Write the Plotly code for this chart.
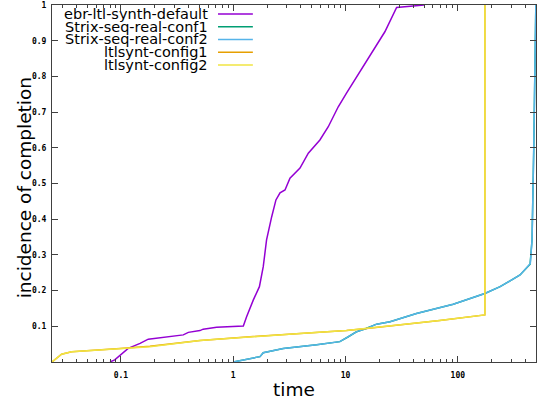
import plotly.graph_objects as go

# ---- data (time in seconds, incidence of completion) ----
ebr_t = [0.080, 0.088, 0.116, 0.148, 0.175, 0.255, 0.359, 0.398, 0.505, 0.54, 0.711, 1.23, 1.315, 1.51, 1.71, 1.85,
         1.98, 2.20, 2.40, 2.61, 2.89, 3.2, 3.93, 4.66, 5.91, 7.02, 8.61, 10.2, 12.6, 15.4, 17.7, 22.4, 28.5, 45.9, 50.0]
ebr_y = [0.0, 0.006, 0.038, 0.052, 0.064, 0.071, 0.076, 0.083, 0.088, 0.092, 0.097, 0.101, 0.127, 0.174, 0.211, 0.267,
         0.342, 0.407, 0.454, 0.474, 0.482, 0.515, 0.543, 0.585, 0.622, 0.659, 0.715, 0.753, 0.799, 0.841, 0.874, 0.925, 0.993, 1.0, 1.0]

strix1_t = [1.0, 1.32, 1.73, 1.85, 2.79, 5.53, 8.9, 10.5, 12.4, 15.2, 18.9, 24.9, 42.8, 91, 174, 238, 358, 440, 458, 474, 484, 491, 495]
strix1_y = [0.0, 0.008, 0.015, 0.026, 0.038, 0.048, 0.057, 0.070, 0.084, 0.094, 0.106, 0.113, 0.136, 0.162, 0.192, 0.211, 0.244, 0.274, 0.342, 0.594, 0.827, 0.93, 1.0]

strix2_t = [1.0, 1.32, 1.73, 1.85, 2.79, 5.53, 8.9, 10.6, 12.6, 15.4, 18.9, 24.9, 42.8, 91, 174, 238, 358, 442, 458, 474, 484, 491, 495]
strix2_y = [0.0, 0.008, 0.015, 0.026, 0.038, 0.048, 0.057, 0.071, 0.085, 0.094, 0.106, 0.113, 0.136, 0.162, 0.192, 0.211, 0.244, 0.276, 0.342, 0.594, 0.827, 0.93, 1.0]

ltl1_t = [0.0243, 0.0296, 0.0364, 0.061, 0.098, 0.181, 0.505, 1.41, 3.93, 10.2, 15.4, 30.4, 69, 174, 174]
ltl1_y = [0.0, 0.022, 0.029, 0.033, 0.038, 0.044, 0.060, 0.071, 0.080, 0.088, 0.094, 0.104, 0.116, 0.132, 1.0]

ltl2_t = [0.0243, 0.0296, 0.0364, 0.061, 0.098, 0.181, 0.505, 1.41, 3.93, 10.2, 15.4, 30.4, 69, 174, 174]
ltl2_y = [0.0, 0.022, 0.029, 0.034, 0.038, 0.043, 0.060, 0.071, 0.080, 0.088, 0.094, 0.104, 0.116, 0.132, 1.0]

series_names = ["ebr-ltl-synth-default", "Strix-seq-real-conf1", "Strix-seq-real-conf2", "ltlsynt-config1", "ltlsynt-config2"]
series_colors = ["#9400d3", "#009e73", "#56b4e9", "#e69f00", "#f0e442"]
series_t = [ebr_t, strix1_t, strix2_t, ltl1_t, ltl2_t]
series_y = [ebr_y, strix1_y, strix2_y, ltl1_y, ltl2_y]

x_tickvals = [0.1, 1, 10, 100]
x_ticktext = ["0.1", "1", "10", "100"]
y_tickvals = [0.1, 0.2, 0.3, 0.4, 0.5, 0.6, 0.7, 0.8, 0.9, 1]
y_ticktext = ["0.1", "0.2", "0.3", "0.4", "0.5", "0.6", "0.7", "0.8", "0.9", "1"]
x_title = "time"
y_title = "incidence of completion"

fig = go.Figure()
for name, color, t, y in zip(series_names, series_colors, series_t, series_y):
    fig.add_trace(go.Scatter(x=t, y=y, mode="lines", name=name,
                             line=dict(color=color, width=1.5), showlegend=False))

# manual gnuplot-style legend: right-aligned text, sample line to the right
leg_y0 = 0.975
leg_dy = 0.0357
for i, (name, color) in enumerate(zip(series_names, series_colors)):
    yy = leg_y0 - i * leg_dy
    fig.add_annotation(x=0.326, y=yy, xref="paper", yref="paper", text=name, showarrow=False,
                       xanchor="right", yanchor="middle",
                       font=dict(family="DejaVu Sans", size=14.5, color="#000"))
    fig.add_shape(type="line", xref="paper", yref="paper", x0=0.343, x1=0.415, y0=yy, y1=yy,
                  line=dict(color=color, width=1.5))

# axis titles placed like gnuplot's
title_font = dict(family="DejaVu Sans", size=18.5, color="#000")
fig.add_annotation(x=0.499, y=-0.0784, xref="paper", yref="paper", text=x_title, showarrow=False,
                   xanchor="center", yanchor="middle", font=title_font)
fig.add_annotation(x=-0.058, y=0.489, xref="paper", yref="paper", text=y_title, showarrow=False,
                   xanchor="center", yanchor="middle", textangle=-90, font=title_font)

tickfont = dict(family="DejaVu Sans Mono", size=8, color="#000", weight="bold")

fig.update_xaxes(type="log", range=[-1.614, 2.696], tickvals=x_tickvals, ticktext=x_ticktext,
                 ticks="inside", ticklen=6, tickcolor="#404040", mirror="allticks",
                 showline=True, linecolor="#404040", linewidth=1, showgrid=False, zeroline=False,
                 tickfont=tickfont, ticklabelstandoff=5, automargin=False,
                 minor=dict(ticks="inside", ticklen=3, tickcolor="#404040", dtick="D1", showgrid=False))
fig.update_yaxes(range=[0, 1], tickvals=y_tickvals, ticktext=y_ticktext,
                 ticks="inside", ticklen=6, tickcolor="#404040", mirror="allticks",
                 showline=True, linecolor="#404040", linewidth=1, showgrid=False, zeroline=False,
                 tickfont=tickfont, ticklabelstandoff=3, automargin=False)

fig.update_layout(width=545, height=403, margin=dict(l=52, r=9, t=5, b=41),
                  plot_bgcolor="white", paper_bgcolor="white", showlegend=False)

fig.write_html("out.html", config={"displayModeBar": False},
               post_script="document.body.style.margin='0';document.body.style.overflow='hidden';")
